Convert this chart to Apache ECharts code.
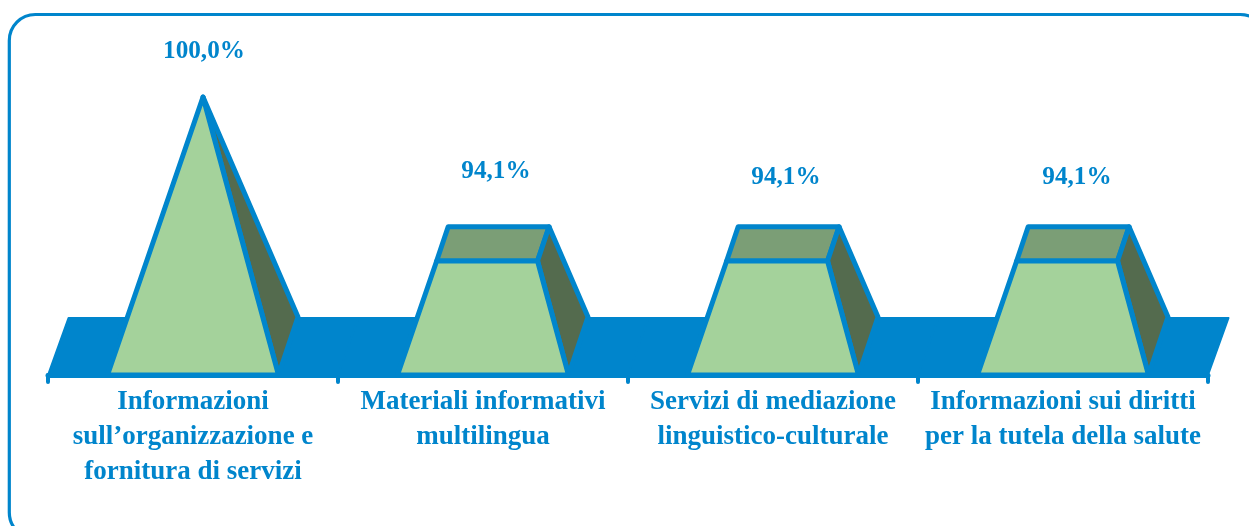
<!DOCTYPE html>
<html><head><meta charset="utf-8">
<style>html,body{margin:0;padding:0;background:#fff}#c{width:1249px;height:526px}</style>
<script src="https://cdn.jsdelivr.net/npm/echarts@6/dist/echarts.min.js"></script>
</head><body><div id="c"></div>
<script>
const categories = [
  "Informazioni\nsull\u2019organizzazione e\nfornitura di servizi",
  "Materiali informativi\nmultilingua",
  "Servizi di mediazione\nlinguistico-culturale",
  "Informazioni sui diritti\nper la tutela della salute"
];
const values = [100.0, 94.1, 94.1, 94.1];
const valueLabels = ["100,0%", "94,1%", "94,1%", "94,1%"];

const BLUE = "#0085cc", GREEN = "#a4d29b", DARK = "#546b4e", TOP = "#7b9e76";
const FONT = '"Liberation Serif", serif';
const DEPTH = [19.5, -58], FLOOR_DEPTH = [20.5, -57], HALF = 85.5;
const labelNudge = [[1, -46], [3, -55], [3, -49], [4, -49]];

const chart = echarts.init(document.getElementById("c"), null, {renderer: "canvas"});

function floorItem(params, api) {
  const i = api.value(0), bw = api.size([1, 0])[0], c = api.coord([i, 90]);
  const l = c[0] - bw / 2, r = c[0] + bw / 2, y = c[1];
  return {type: "polygon", shape: {points: [[l, y], [r, y], [r + FLOOR_DEPTH[0], y + FLOOR_DEPTH[1]], [l + FLOOR_DEPTH[0], y + FLOOR_DEPTH[1]]]},
    style: {fill: BLUE, stroke: BLUE, lineWidth: 2, lineJoin: "round"}};
}
function pyramidItem(params, api) {
  const i = api.value(0), v = api.value(1);
  const base = api.coord([i, 90]), top = api.coord([i, v]), apexY = api.coord([i, 100])[1];
  const t = (base[1] - top[1]) / (base[1] - apexY);
  const cx = base[0];
  const ax = cx + 10;
  const p = (x, y) => [x + (ax - x) * t, y + (apexY - y) * t];
  const bfl = [cx - HALF, base[1]], bfr = [cx + HALF, base[1]];
  const bbr = [bfr[0] + DEPTH[0], base[1] + DEPTH[1]], bbl = [bfl[0] + DEPTH[0], base[1] + DEPTH[1]];
  const tfl = p(...bfl), tfr = p(...bfr), tbr = p(...bbr), tbl = p(...bbl);
  const st = (fill) => ({fill, stroke: BLUE, lineWidth: 5, lineJoin: "round"});
  const n = labelNudge[params.dataIndex];
  return {type: "group", children: [
    {type: "polygon", shape: {points: [tfl, tfr, tbr, tbl]}, style: st(TOP)},
    {type: "polygon", shape: {points: [bfr, bbr, tbr, tfr]}, style: st(DARK)},
    {type: "polygon", shape: {points: [bfl, bfr, tfr, tfl]}, style: st(GREEN)},
    {type: "text", style: {text: valueLabels[params.dataIndex], x: ax + n[0], y: tbr[1] + n[1],
      align: "center", verticalAlign: "middle", fill: BLUE, font: "bold 25.2px " + FONT}}
  ]};
}

chart.setOption({
  animation: false,
  backgroundColor: "#fff",
  graphic: [{type: "rect", z: -1, shape: {x: 9.3, y: 14.5, width: 1257, height: 524, r: 26},
    style: {fill: "none", stroke: BLUE, lineWidth: 3.2}}],
  grid: {left: 48, right: 41, top: 97, bottom: 151, containLabel: false},
  xAxis: {type: "category", data: categories, boundaryGap: true,
    axisLine: {show: true, lineStyle: {color: BLUE, width: 5}},
    axisTick: {show: true, alignWithLabel: false, length: 7, lineStyle: {color: BLUE, width: 4, cap: "round"}},
    axisLabel: {color: BLUE, fontFamily: '"Liberation Serif", serif', fontWeight: "bold", fontSize: 27,
      lineHeight: 35, margin: 10, interval: 0}},
  yAxis: {type: "value", min: 90, max: 100, interval: 10, show: false},
  series: [
    {type: "custom", z: 1, renderItem: floorItem, data: categories.map((_, i) => [i, 90]), encode: {x: 0, y: 1}, silent: true},
    {type: "custom", z: 2, renderItem: pyramidItem, data: values.map((v, i) => [i, v]), encode: {x: 0, y: 1}}
  ]
});
</script></body></html>
